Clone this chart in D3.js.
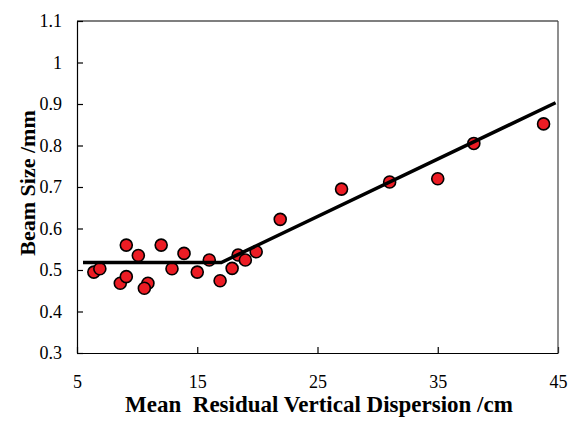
<!DOCTYPE html>
<html>
<head>
<meta charset="utf-8">
<script src="https://cdn.jsdelivr.net/npm/d3@7"></script>
<style>
  body { margin: 0; background: #fff; }
</style>
</head>
<body>
<div id="chart"></div>
<script>
// measured points
const dispersion = [6.4, 6.9, 9.1, 10.1, 8.6, 9.1, 10.9, 10.6, 12.0, 12.9, 13.9, 15.0, 16.0, 16.9, 17.9, 18.4, 19.0, 19.9, 21.9, 27.0, 31.0, 35.0, 38.0, 43.8];
const beamSize   = [0.495, 0.503, 0.560, 0.535, 0.468, 0.484, 0.468, 0.456, 0.560, 0.503, 0.540, 0.495, 0.524, 0.474, 0.504, 0.536, 0.524, 0.544, 0.622, 0.695, 0.712, 0.720, 0.805, 0.852];

// fitted trend (flat, then linear)
const fitX = [5.5, 17.0, 44.8];
const fitY = [0.518, 0.518, 0.903];

const xTicks = [5, 15, 25, 35, 45];
const yTicks = [0.3, 0.4, 0.5, 0.6, 0.7, 0.8, 0.9, 1.0, 1.1];

const FONT = "Liberation Serif";

const W = 571, H = 421;
const margin = { top: 21, right: 13, bottom: 68, left: 77 };
const width = W - margin.left - margin.right;
const height = H - margin.top - margin.bottom;

const svg = d3.select("#chart").append("svg")
  .attr("width", W)
  .attr("height", H);

const g = svg.append("g")
  .attr("transform", `translate(${margin.left},${margin.top})`);

const x = d3.scaleLinear().domain([5, 45]).range([0, width]);
const y = d3.scaleLinear().domain([0.3, 1.1]).range([height, 0]);

const xAxis = d3.axisBottom(x)
  .tickValues(xTicks)
  .tickSizeInner(-6)
  .tickSizeOuter(0)
  .tickPadding(22)
  .tickFormat(d3.format("d"));

const yAxis = d3.axisLeft(y)
  .tickValues(yTicks)
  .tickSizeInner(-6)
  .tickSizeOuter(0)
  .tickPadding(15)
  .tickFormat(d => d === 1 ? "1" : d3.format(".1f")(d));

const xAxisG = g.append("g")
  .attr("transform", `translate(0,${height})`)
  .call(xAxis);

const yAxisG = g.append("g")
  .call(yAxis);

[xAxisG, yAxisG].forEach(a => {
  a.attr("font-family", FONT).attr("font-size", 18);
  a.selectAll("text").attr("fill", "#000");
  a.selectAll("path, line").attr("stroke", "#000").attr("stroke-width", 1.2);
});

// frame (top and right)
g.append("line")
  .attr("x1", 0).attr("x2", width)
  .attr("y1", 0).attr("y2", 0)
  .attr("stroke", "#000").attr("stroke-width", 1.2);
g.append("line")
  .attr("x1", width).attr("x2", width)
  .attr("y1", 0).attr("y2", height)
  .attr("stroke", "#444").attr("stroke-width", 1.2);

// points
const pts = dispersion.map((d, i) => ({ x: d, y: beamSize[i] }));
g.append("g")
  .selectAll("circle")
  .data(pts)
  .enter()
  .append("circle")
  .attr("cx", d => x(d.x))
  .attr("cy", d => y(d.y))
  .attr("r", 6)
  .attr("fill", "#ec1c24")
  .attr("stroke", "#000")
  .attr("stroke-width", 1.6);

// trend line on top
const fit = fitX.map((d, i) => [d, fitY[i]]);
g.append("path")
  .datum(fit)
  .attr("fill", "none")
  .attr("stroke", "#000")
  .attr("stroke-width", 3.5)
  .attr("d", d3.line().x(d => x(d[0])).y(d => y(d[1])));

// labels
svg.append("text")
  .attr("x", 319)
  .attr("y", 412)
  .attr("text-anchor", "middle")
  .attr("font-family", FONT)
  .attr("font-weight", "bold")
  .attr("font-size", 23)
  .style("white-space", "pre")
  .text("Mean  Residual Vertical Dispersion /cm");

svg.append("text")
  .attr("transform", `translate(35,183) rotate(-90)`)
  .attr("text-anchor", "middle")
  .attr("font-family", FONT)
  .attr("font-weight", "bold")
  .attr("font-size", 22)
  .text("Beam Size /mm");
</script>
</body>
</html>
